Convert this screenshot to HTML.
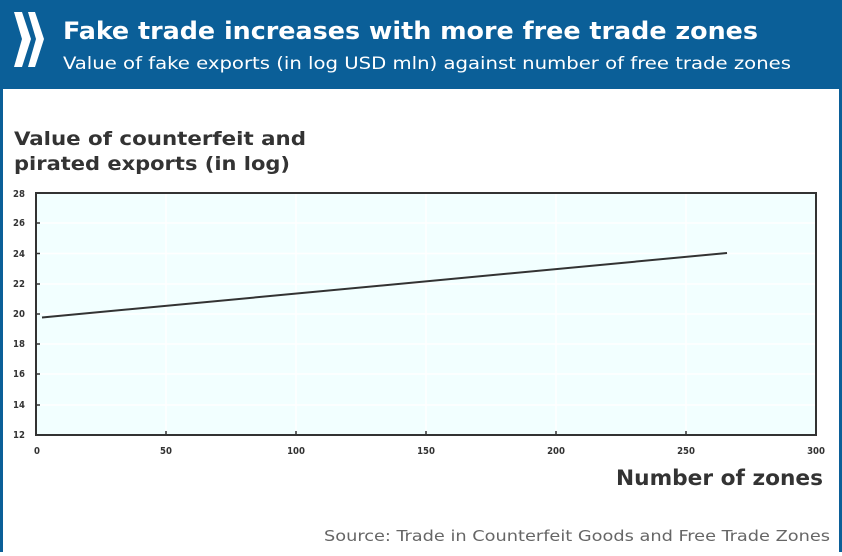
<!DOCTYPE html>
<html><head><meta charset="utf-8"><style>
html,body{margin:0;padding:0;background:#fff}
body{width:842px;height:552px;overflow:hidden;font-family:"DejaVu Sans","Liberation Sans",sans-serif}
</style></head><body>
<svg width="842" height="552" xmlns="http://www.w3.org/2000/svg" font-family="'DejaVu Sans Condensed','DejaVu Sans','Liberation Sans',sans-serif">
<rect x="0" y="0" width="842" height="552" fill="#0b5f98"/>
<rect x="3" y="89" width="836" height="463" fill="#fff"/>
<g fill="#fff">
<polygon points="14,12 22,12 31,39 22,67 14,67 22,39"/>
<polygon points="28,12 35,12 44,39 35,67 28,67 36,39"/>
</g>
<text x="63" y="39" fill="#fff" font-size="24" font-weight="bold" textLength="695" lengthAdjust="spacingAndGlyphs">Fake trade increases with more free trade zones</text>
<text x="63" y="69" fill="#fff" font-size="17" textLength="728" lengthAdjust="spacingAndGlyphs">Value of fake exports (in log USD mln) against number of free trade zones</text>
<g fill="#333" font-weight="bold" font-size="19">
<text x="14" y="145" textLength="292" lengthAdjust="spacingAndGlyphs">Value of counterfeit and</text>
<text x="14" y="170" textLength="276" lengthAdjust="spacingAndGlyphs">pirated exports (in log)</text>
<text x="616" y="485" font-size="21" textLength="207" lengthAdjust="spacingAndGlyphs">Number of zones</text>
</g>
<text x="324" y="541" fill="#666" font-size="15" textLength="506" lengthAdjust="spacingAndGlyphs">Source: Trade in Counterfeit Goods and Free Trade Zones</text>
<rect x="36" y="193" width="780" height="242" fill="#f2ffff"/>
<g stroke="#fff" stroke-width="1.5">
<line x1="166" y1="193" x2="166" y2="435"/><line x1="296" y1="193" x2="296" y2="435"/><line x1="426" y1="193" x2="426" y2="435"/><line x1="556" y1="193" x2="556" y2="435"/><line x1="686" y1="193" x2="686" y2="435"/>
<line x1="36" y1="223" x2="816" y2="223"/><line x1="36" y1="253.5" x2="816" y2="253.5"/><line x1="36" y1="284" x2="816" y2="284"/><line x1="36" y1="314" x2="816" y2="314"/><line x1="36" y1="344" x2="816" y2="344"/><line x1="36" y1="374" x2="816" y2="374"/><line x1="36" y1="405" x2="816" y2="405"/>
</g>
<rect x="36" y="193" width="780" height="242" fill="none" stroke="#333" stroke-width="2"/>
<g stroke="#333" stroke-width="1.5">
<line x1="36" y1="223" x2="40" y2="223"/><line x1="36" y1="253.5" x2="40" y2="253.5"/><line x1="36" y1="284" x2="40" y2="284"/><line x1="36" y1="314" x2="40" y2="314"/><line x1="36" y1="344" x2="40" y2="344"/><line x1="36" y1="374" x2="40" y2="374"/><line x1="36" y1="405" x2="40" y2="405"/>
<line x1="166" y1="435" x2="166" y2="431"/><line x1="296" y1="435" x2="296" y2="431"/><line x1="426" y1="435" x2="426" y2="431"/><line x1="556" y1="435" x2="556" y2="431"/><line x1="686" y1="435" x2="686" y2="431"/>
</g>
<line x1="42" y1="317.5" x2="727" y2="253" stroke="#333" stroke-width="2"/>
<g fill="#333" font-size="9.5" font-weight="bold" text-anchor="middle">
<text x="19" y="197">28</text><text x="19" y="226">26</text><text x="19" y="257">24</text><text x="19" y="287">22</text><text x="19" y="317">20</text><text x="19" y="347">18</text><text x="19" y="377">16</text><text x="19" y="408">14</text><text x="19" y="438">12</text>
<text x="37" y="454">0</text><text x="166" y="454">50</text><text x="296" y="454">100</text><text x="426" y="454">150</text><text x="556" y="454">200</text><text x="686" y="454">250</text><text x="816" y="454">300</text>
</g>
</svg>
</body></html>
